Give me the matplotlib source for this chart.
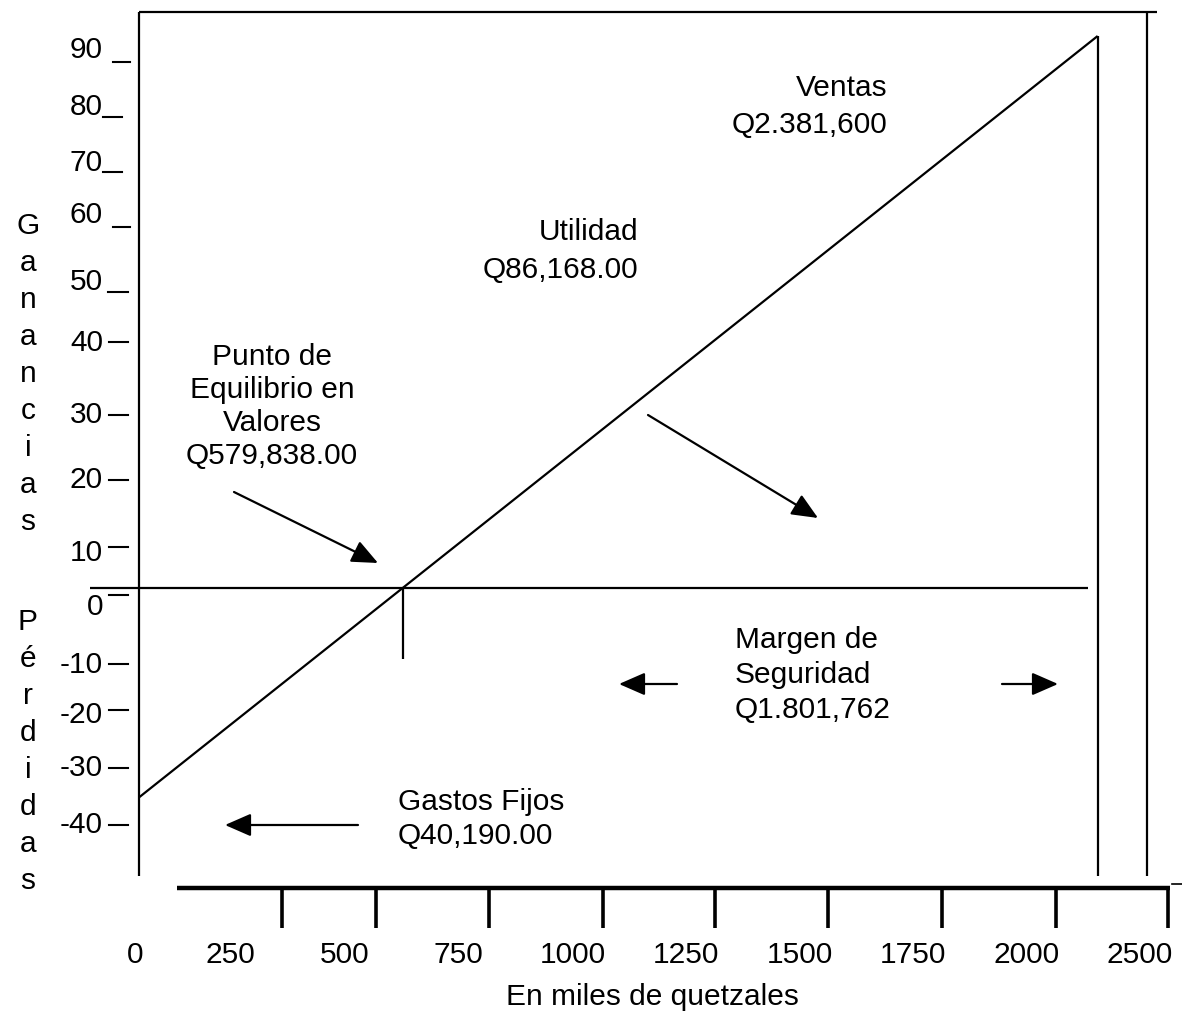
import matplotlib
matplotlib.use('Agg')
import matplotlib.pyplot as plt

plt.rcParams['font.family'] = ['Liberation Sans', 'DejaVu Sans']

# values (miles de quetzales)
punto_equilibrio = 579.838
ventas = 2381.6
tope_ganancia = 90

x_labels = ['0', '250', '500', '750', '1000', '1250', '1500', '1750', '2000', '2500']
y_labels = ['90', '80', '70', '60', '50', '40', '30', '20', '10', '0',
            '-10', '-20', '-30', '-40']
ventas_txt = ['Ventas', 'Q2.381,600']
utilidad_txt = ['Utilidad', 'Q86,168.00']
punto_txt = ['Punto de', 'Equilibrio en', 'Valores', 'Q579,838.00']
margen_txt = ['Margen de', 'Seguridad', 'Q1.801,762']
gastos_txt = ['Gastos Fijos', 'Q40,190.00']
ganancias = 'Ganancias'
perdidas = 'Pérdidas'

# layout (pixel canvas)
W, H = 1182, 1016
X0 = 179
SX = 695 / (ventas - punto_equilibrio)
Y0 = 588
SY = 552 / tope_ganancia


def xs(v):
    return X0 + v * SX


def ys(v):
    return Y0 - v * SY


fig = plt.figure(figsize=(W / 100, H / 100), dpi=100)
ax = fig.add_axes([0, 0, 1, 1])
ax.set_xlim(0, W)
ax.set_ylim(H, 0)
ax.axis('off')

lw = 1.6
fs = 21.5
k = dict(color='black', lw=lw, solid_capstyle='butt')

# frame
ax.plot([139, 1157], [12, 12], **k)
ax.plot([139, 139], [12, 876], **k)
ax.plot([1147, 1147], [12, 876], **k)

# zero line
ax.plot([90, 1088], [ys(0), ys(0)], **k)

# sales line from left frame to apex
x_left = (139 - X0) / SX
slope = tope_ganancia / (ventas - punto_equilibrio)
ax.plot([xs(x_left), xs(ventas)],
        [ys(slope * (x_left - punto_equilibrio)), ys(tope_ganancia)], **k)
ax.plot([xs(ventas), xs(ventas)], [ys(tope_ganancia), 876], **k)
ax.plot([xs(punto_equilibrio)] * 2, [ys(0), ys(-11.5)], **k)

# bottom axis
ax.plot([177, 1170], [888, 888], color='black', lw=3.2, solid_capstyle='butt')
for tx in [282, 376, 489, 603, 715, 828, 942, 1056, 1168]:
    ax.plot([tx, tx], [888, 928], color='black', lw=2.6, solid_capstyle='butt')
ax.plot([1172, 1182], [884, 884], color='black', lw=1.2)

x_pos = [135, 230, 345, 458, 573, 686, 800, 913, 1027, 1140]
for lab, px in zip(x_labels, x_pos):
    ax.text(px, 955, lab, fontsize=fs, ha='center', va='center')
ax.text(652, 997, 'En miles de quetzales', fontsize=fs, ha='center', va='center')

# y tick labels with hand dashes
y_text = [50, 107, 163, 215, 282, 343, 415, 480, 553, 607, 665, 715, 768, 825]
y_dash = [62, 117, 172, 227, 292, 342, 415, 480, 547, 595, 664, 710, 768, 825]
dash_x = [(113, 130), (103, 122), (103, 122), (113, 130), (108, 128)] + [(109, 128)] * 9
for lab, ty, dy, (d0, d1) in zip(y_labels, y_text, y_dash, dash_x):
    ax.text(103, ty, lab, fontsize=fs, ha='right', va='center')
    ax.plot([d0, d1], [dy, dy], color='black', lw=1.5)

# vertical words
for i, ch in enumerate(ganancias):
    ax.text(28, 226 + i * 37, ch, fontsize=fs, ha='center', va='center')
for i, ch in enumerate(perdidas):
    ax.text(28, 622 + i * 37, ch, fontsize=fs, ha='center', va='center')

# annotations
for i, t in enumerate(ventas_txt):
    ax.text(887, 88 + i * 37, t, fontsize=fs, ha='right', va='center')
for i, t in enumerate(utilidad_txt):
    ax.text(638, 232 + i * 38, t, fontsize=fs, ha='right', va='center')
for i, t in enumerate(punto_txt):
    ax.text(272, 357 + i * 33, t, fontsize=fs, ha='center', va='center')
for i, t in enumerate(margen_txt):
    ax.text(735, 640 + i * 35, t, fontsize=fs, ha='left', va='center')
for i, t in enumerate(gastos_txt):
    ax.text(398, 802 + i * 34, t, fontsize=fs, ha='left', va='center')

arrows = [((234, 492), (378, 563)), ((648, 415), (818, 518)),
          ((677, 684), (619, 684)), ((1002, 684), (1058, 684)),
          ((358, 825), (225, 825))]
for start, end in arrows:
    ax.annotate('', xy=end, xytext=start,
                arrowprops=dict(arrowstyle='-|>,head_length=0.8,head_width=0.35',
                                color='black', lw=lw, mutation_scale=20,
                                shrinkA=0, shrinkB=0))

fig.savefig('out.png', dpi=100)
